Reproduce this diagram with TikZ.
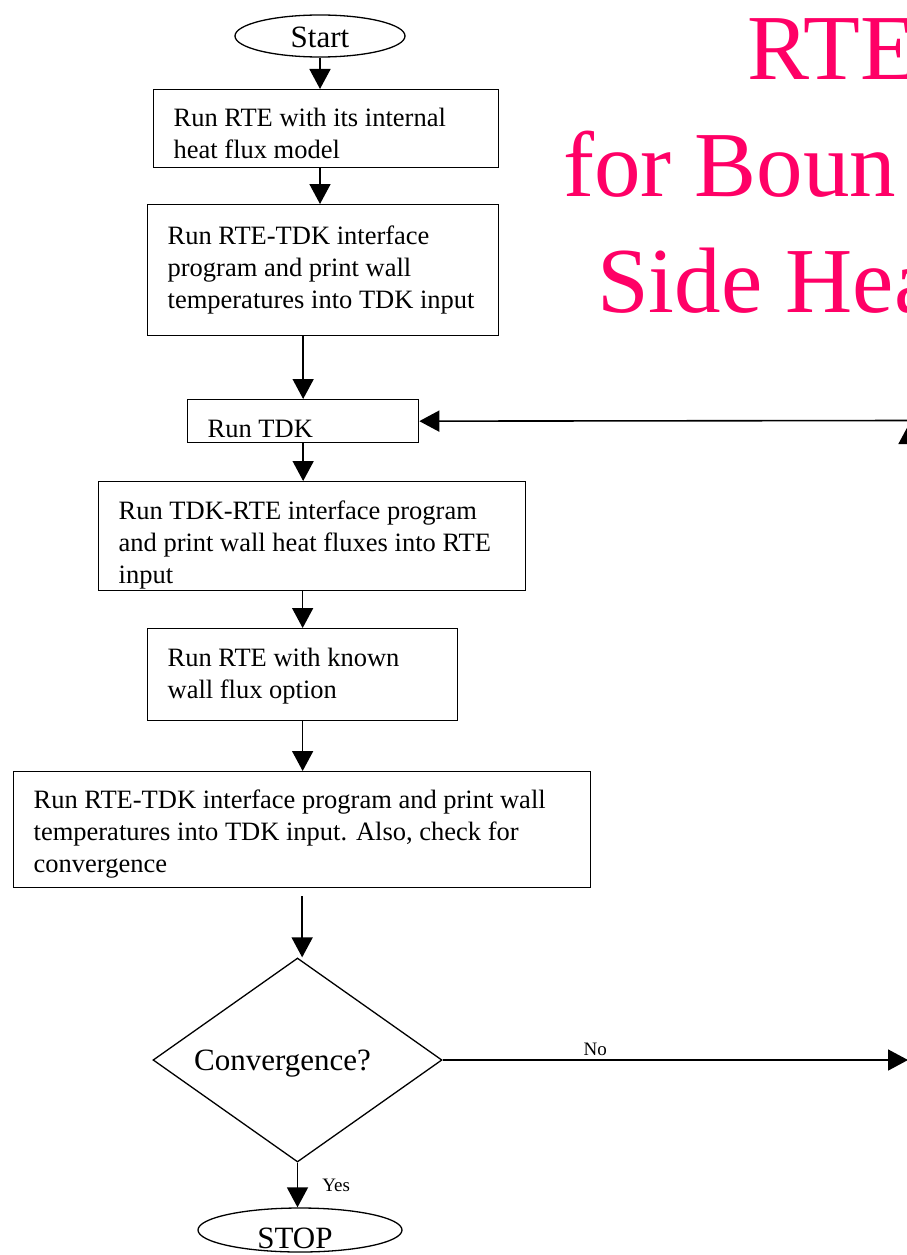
\documentclass[tikz,border=0pt]{standalone}
\usepackage{fontspec}
\setmainfont{Liberation Serif}
\usetikzlibrary{arrows.meta,shapes.geometric}
\definecolor{titlepink}{RGB}{255,0,102}
\hyphenpenalty=10000
\exhyphenpenalty=10000
\begin{document}
\begin{tikzpicture}[x=1pt,y=-1pt,
  box/.style={draw, line width=1.3pt, rectangle, anchor=north west, inner xsep=20pt, inner ysep=0pt, align=flush left, font=\fontsize{26.5}{32}\selectfont},
  dn/.style={execute at begin node={\rule{0pt}{#1}}},
  term/.style={draw, line width=1.3pt, ellipse, inner sep=0pt, font=\fontsize{31}{36}\selectfont},
  conn/.style={line width=1.6pt, -{Triangle[length=20pt,width=21pt]}},
  lab/.style={font=\fontsize{19}{22}\selectfont, inner sep=0pt},
  titletext/.style={anchor=base west, text=titlepink, font=\fontsize{93}{116}\selectfont, inner sep=0pt}]
\useasboundingbox (0,0) rectangle (907,1255);
\fill[white] (0,0) rectangle (907,1255);
\clip (0,0) rectangle (907,1255);

% title (cut off at the right edge, as in the reference)
\node[titletext] (title1) at (747,80) {RTE};
\node[titletext] (title2) at (563,196) {for Boun};
\node[titletext] (title3) at (597,312) {Side Hea};

% flowchart nodes
\node[term, minimum width=170pt, minimum height=42pt] (start) at (320,36) {\raisebox{-12pt}[0pt][0pt]{Start}};
\node[box, dn=27pt, text width=305pt, minimum height=78pt] (b1) at (153,89) {Run RTE with its internal heat flux model};
\node[box, text width=311pt, minimum height=131pt] (b2) at (147,204) {Run RTE-TDK interface program and print wall temperatures into TDK input};
\node[box, dn=33pt, text width=191pt, minimum height=43pt] (tdk) at (187,399) {Run TDK};
\node[box, dn=36pt, text width=387pt, minimum height=109pt] (b4) at (98,481) {Run TDK-RTE interface program and print wall heat fluxes into RTE input};
\node[box, dn=22pt, text width=270pt, minimum height=92pt] (b5) at (147,628) {Run RTE with known wall flux option};
\node[box, dn=28pt, text width=537pt, minimum height=116pt] (b6) at (13,771) {Run RTE-TDK interface program and print wall temperatures into TDK input. Also, check for convergence};
\node[draw, line width=1.3pt, diamond, aspect=1.42, minimum width=289pt, minimum height=204pt, inner sep=0pt, font=\fontsize{31}{36}\selectfont] (dia) at (297.5,1060) {\raisebox{-10pt}[0pt][0pt]{Convergence?}\hspace*{30pt}};
\node[term, minimum width=204pt, minimum height=44pt] (stop) at (300,1230) {\raisebox{-18pt}[0pt][0pt]{STOP}\hspace*{10pt}};

\coordinate (noend) at (908,1060);
\coordinate (rt) at (909,420.5);
\coordinate (upstart) at (909,700);
\coordinate (uptip) at (909,424);

% connectors
\draw[conn] (start.south) -- (start.south |- b1.north);
\draw[conn] (start.south |- b1.south) -- (start.south |- b2.north);
\draw[conn] (tdk.north |- b2.south) -- (tdk.north);
\draw[conn] (tdk.south) -- (tdk.south |- b4.north);
\draw[conn] (b5.north |- b4.south) -- (b5.north);
\draw[conn] (b5.south) -- (b5.south |- b6.north);
\draw[conn] ([yshift=-8pt]b6.south) -- (b6.south |- dia.north);
\draw[conn] (dia.south) -- (dia.south |- stop.north) node[lab, pos=0.5, anchor=west, xshift=24pt] (yes) {Yes};
\draw[conn] (dia.east) -- (noend) node[lab, pos=0.328, anchor=south, yshift=4pt] (no) {No};
\draw[conn] (rt) -- (tdk.east);
\draw[conn] (upstart) -- (uptip);
\end{tikzpicture}
\end{document}
